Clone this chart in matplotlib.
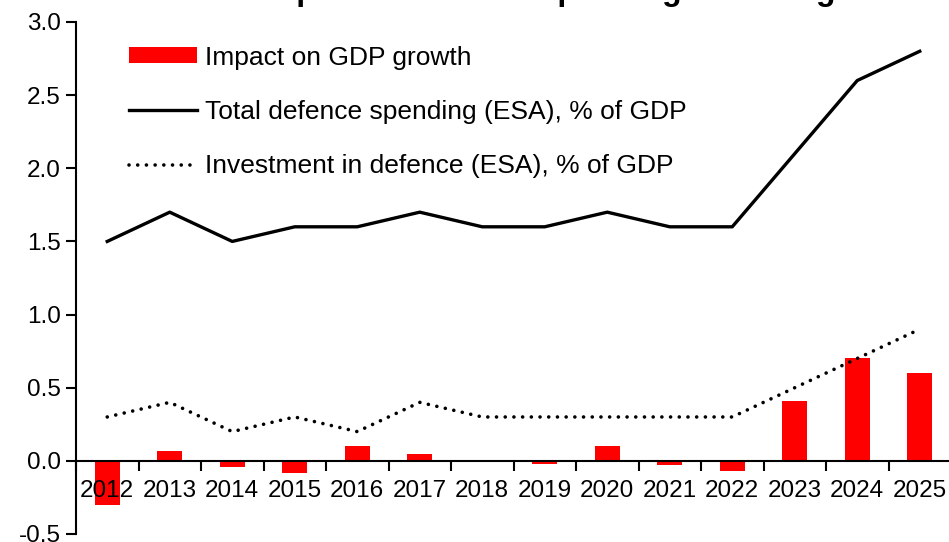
import matplotlib
matplotlib.use("Agg")
import matplotlib.pyplot as plt
import numpy as np

plt.rcParams['font.family'] = ['Liberation Sans', 'DejaVu Sans']
plt.rcParams['font.size'] = 17.5

years = ['2012', '2013', '2014', '2015', '2016', '2017', '2018',
         '2019', '2020', '2021', '2022', '2023', '2024', '2025']
gdp_impact = [-0.30, 0.07, -0.04, -0.08, 0.10, 0.05, 0.0,
              -0.02, 0.10, -0.03, -0.07, 0.41, 0.70, 0.60]
total_spending = [1.5, 1.7, 1.5, 1.6, 1.6, 1.7, 1.6,
                  1.6, 1.7, 1.6, 1.6, 2.1, 2.6, 2.8]
investment = [0.3, 0.4, 0.2, 0.3, 0.2, 0.4, 0.3,
              0.3, 0.3, 0.3, 0.3, 0.5, 0.7, 0.9]

x = np.arange(len(years))

fig = plt.figure(figsize=(9.49, 5.42), dpi=100)
ax = fig.add_axes([76 / 949, 8 / 542, 875 / 949, 512 / 542])

bars = ax.bar(x, gdp_impact, width=0.4, color='#ff0000', zorder=1,
              label='Impact on GDP growth')
line_total, = ax.plot(x, total_spending, color='black', lw=2.4, zorder=3,
                      label='Total defence spending (ESA), % of GDP')
line_inv, = ax.plot(x, investment, color='black', lw=2.6, zorder=3,
                    linestyle=(0, (0.01, 2.4)), dash_capstyle='round',
                    label='Investment in defence (ESA), % of GDP')

ax.set_xlim(-0.5, len(years) - 0.5)
ax.set_ylim(-0.5, 3.0)
yt = np.arange(-0.5, 3.01, 0.5)
ax.set_yticks(yt)
ax.set_yticklabels([f'{v:.1f}' for v in yt])

# year labels at the centres, tick marks between the years
ax.set_xticks(x)
ax.set_xticklabels(years)
ax.set_xticks(np.arange(-0.5, len(years), 1.0), minor=True)
ax.tick_params(axis='x', which='major', length=0, pad=14)
ax.tick_params(axis='x', which='minor', length=7, width=1.5, direction='out')
ax.tick_params(axis='y', length=7, width=1.5, direction='out', pad=4)

ax.spines['bottom'].set_position(('data', 0))
ax.spines['bottom'].set_linewidth(1.5)
ax.spines['left'].set_linewidth(1.5)
ax.spines['top'].set_visible(False)
ax.spines['right'].set_visible(False)
ax.spines['bottom'].set_zorder(4)
ax.xaxis.set_zorder(5)

leg = ax.legend([bars, line_total, line_inv],
                [bars.get_label(), line_total.get_label(), line_inv.get_label()],
                loc='upper left', bbox_to_anchor=(0.033, 1.0), frameon=False,
                handlelength=2.6, handleheight=0.55, handletextpad=0.3,
                labelspacing=1.15, fontsize=19)

fig.text(0.273, 1.0, 'Impact of defence spending on GDP growth',
         ha='left', va='baseline', fontsize=23, fontweight='bold')

fig.savefig('out.png', dpi=100)
